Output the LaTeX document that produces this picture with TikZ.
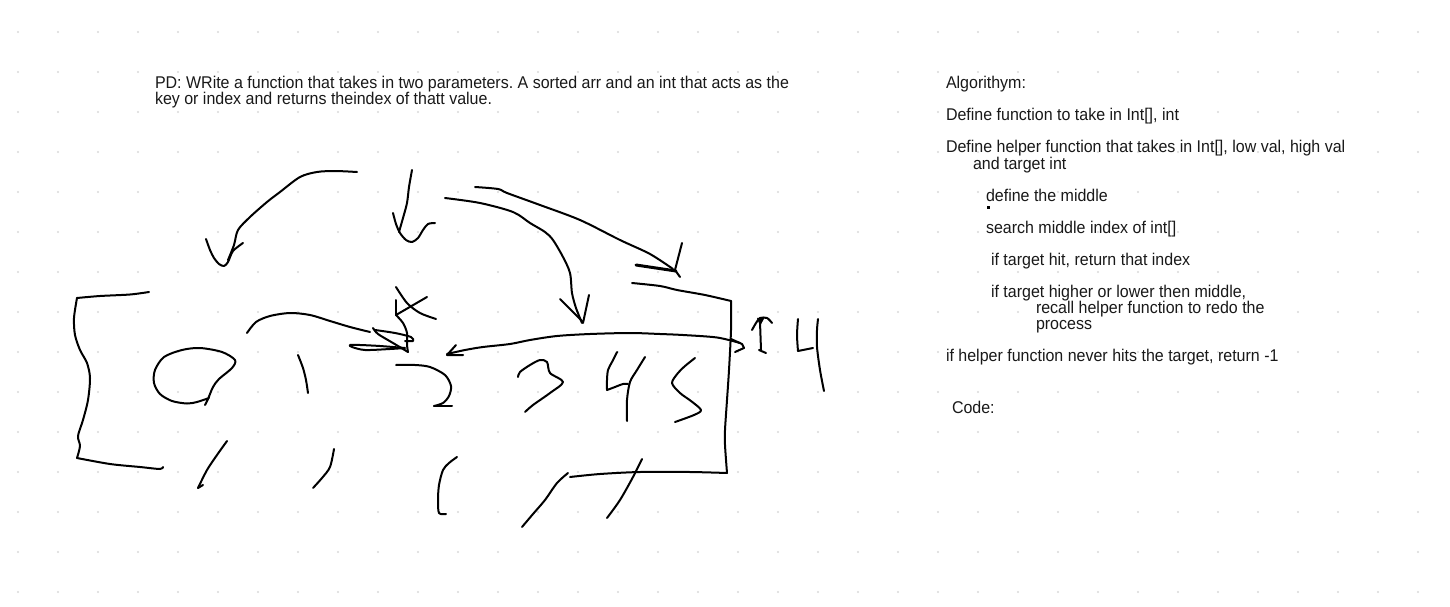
\documentclass[tikz,border=0pt]{standalone}
\usepackage{fontspec}
\setmainfont{Liberation Sans}[FakeStretch=0.941]
\begin{document}
\frenchspacing
\begin{tikzpicture}[x=1pt,y=-1pt,
  ink/.style={line width=2pt,line cap=round,line join=round,black},
  inkthick/.style={line width=3pt,line cap=round,line join=round,black},
  txt/.style={anchor=base west,inner sep=0pt,outer sep=0pt,font=\fontsize{17}{16}\selectfont,text=black!90}]
\useasboundingbox (0,0) rectangle (1450,607);
\fill[white] (0,0) rectangle (1450,607);
% dot grid
\foreach \i in {0,...,35}{\foreach \j in {0,...,14}{\fill[black!15] (18+40*\i,32+40*\j) circle (1.2pt);}}
% texts
\node[txt] (pd1) at (155,89) {PD: WRite a function that takes in two parameters. A sorted arr and an int that acts as the};
\node[txt] (pd2) at (155,105) {key or index and returns theindex of thatt value.};
\node[txt] (alg) at (946,89) {Algorithym:};
\node[txt] (a1) at (946,121) {Define function to take in Int[], int};
\node[txt] (a2) at (946,153) {Define helper function that takes in Int[], low val, high val};
\node[txt] (a2b) at (973,169) {and target int};
\node[txt] (a3) at (986,201) {define the middle};
\fill (987,205.5) rectangle (990,208.5);
\node[txt] (a4) at (986,233) {search middle index of int[]};
\node[txt] (a5) at (991,265) {if target hit, return that index};
\node[txt] (a6) at (991,297) {if target higher or lower then middle,};
\node[txt] (a6b) at (1036,313) {recall helper function to redo the};
\node[txt] (a6c) at (1036,329) {process};
\node[txt] (a7) at (946,361) {if helper function never hits the target, return -1};
\node[txt] (code) at (952,413) {Code:};
% left bracket
\draw[ink] plot[smooth] coordinates {(149,292) (130,294.5) (100,296) (77,298)};
\draw[ink] plot[smooth] coordinates {(77,298) (74,318) (75,335) (80,350) (87,363) (90,378) (88,400) (83,420) (78,436) (80,446) (77,458)};
\draw[ink] plot[smooth] coordinates {(77,458) (110,464) (140,467) (160,469) (163,467)};
% zero
\draw[ink] plot[smooth] coordinates {(209,398) (197,402) (187,403.5) (172,401) (160,394) (154,383) (155,370) (164,357) (182,350) (200,348) (222,352) (235,360) (232,368) (219,379) (213,387) (208,399) (205,405)};
% one
\draw[ink] plot[smooth] coordinates {(298,355) (303,368) (306,380) (308,393)};
% arc with scribbled head
\draw[ink] plot[smooth] coordinates {(247,333) (256,322) (270,316) (290,313) (310,315) (330,321) (350,327) (370,332)};
\draw[ink] plot[smooth] coordinates {(373,328) (378,334) (393,343) (408,352)};
\draw[ink] plot[smooth] coordinates {(375,330) (395,333) (411,337) (413,341) (405,341)};
\draw[ink] plot[smooth] coordinates {(405,348) (390,349) (365,350) (352,347) (350,345) (360,345) (380,346) (405,348)};
% K mark
\draw[ink] plot[smooth] coordinates {(396,287) (407,303) (420,313) (436,319)};
\draw[ink] (427,297) -- (396,315);
\draw[ink] (396,300) -- (396,315);
\draw[ink] plot[smooth] coordinates {(396,315) (403,323) (407,333) (407,345) (408,352)};
% two
\draw[ink] plot[smooth] coordinates {(396,365) (415,365) (430,367) (445,375) (451,386) (449,396) (443,403) (434,406)};
\draw[ink] (434,406) -- (452,406);
% long double arrow
\draw[ink] plot[smooth] coordinates {(447,354) (465,350) (483,347) (510,344) (530,340) (557,336) (590,334) (630,333) (660,334) (683,335) (717,337.5) (740,343)};
\draw[ink] (456,345) -- (447,355) -- (463,355);
\draw[ink] (731,339) -- (742,344) -- (744,348) -- (735,352);
% box
\draw[ink] plot[smooth] coordinates {(632,283) (660,286) (677,290) (705,295) (731,301)};
\draw[ink] plot[smooth] coordinates {(731,301) (731,330) (729,370) (727,400) (725,430) (725,445) (727,473)};
\draw[ink] plot[smooth] coordinates {(727,473) (690,472) (640,472) (600,474) (570,477)};
% three
\draw[ink] plot[smooth] coordinates {(518,377) (520,372) (530,365) (540,360) (547,362) (550,373) (563,382) (550,393) (533,405) (525,412)};
% four (middle)
\draw[ink] plot[smooth] coordinates {(617,352) (612,362) (608,370) (607,380) (607,390)};
\draw[ink] plot[smooth] coordinates {(607,390) (615,387) (623,384) (628,384)};
\draw[ink] plot[smooth] coordinates {(645,357) (637,370) (630,382) (627,400) (627,421)};
% five
\draw[ink] plot[smooth] coordinates {(695,358) (685,366) (678,373) (672,383) (680,393) (691,401) (701,410) (694,415) (675,422)};
% arrow 1
\draw[ink] plot[smooth] coordinates {(357,172) (335,171) (317,172) (300,177) (280,192) (267,202) (250,217) (238,230) (234,245) (228,260)};
\draw[ink] plot[smooth] coordinates {(206,239) (210,250) (214,258) (219,264) (224,266) (228,262) (233,251) (243,243)};
% arrow 2
\draw[ink] plot[smooth] coordinates {(412,170) (409,187) (407,203) (403,218) (399,232)};
\draw[ink] plot[smooth] coordinates {(393,213) (396,224) (400,233) (406,240) (412,242) (418,238) (423,230) (428,224) (435,223)};
% arrow 3
\draw[ink] plot[smooth] coordinates {(445,198) (480,203) (513,212) (530,223) (545,232) (553,240) (563,257) (570,273) (572,293) (576,308) (582,323)};
\draw[ink] (560,299) -- (583,322);
\draw[ink] (589,295) -- (583,323);
% arrow 4
\draw[ink] plot[smooth] coordinates {(475,187) (498,189) (507,193) (540,205) (580,220) (620,240) (650,254) (673,269)};
\draw[inkthick] (636,265) -- (676,271);
\draw[ink] (682,243) -- (675,270) -- (680,277);
% small flag mark
\draw[ink] plot[smooth] coordinates {(752,330) (756,323) (760,318) (767,318) (772,323)};
\fill (757,318) -- (765,317) -- (760,326) -- cycle;
\draw[ink] (760,322) -- (761,350);
\draw[ink] (759,350) -- (766,353);
% right four
\draw[ink] plot[smooth] coordinates {(798,319) (797,335) (798,351)};
\draw[ink] (798,351) -- (813,348);
\draw[ink] plot[smooth] coordinates {(818,319) (817,330) (817,347) (820,370) (824,391)};
% bottom strokes
\draw[ink] plot[smooth] coordinates {(227,441) (217,455) (207,470) (198,488)};
\draw[ink] (198,488) -- (203,485);
\draw[ink] plot[smooth] coordinates {(334,449) (330,467) (322,478) (313,488)};
\draw[ink] plot[smooth] coordinates {(457,457) (449,463) (443,470) (439,485) (438,500) (439,513) (446,514)};
\draw[ink] plot[smooth] coordinates {(568,473) (557,483) (545,500) (533,514) (522,527)};
\draw[ink] plot[smooth] coordinates {(642,459) (633,477) (620,500) (607,518)};
\end{tikzpicture}
\end{document}
